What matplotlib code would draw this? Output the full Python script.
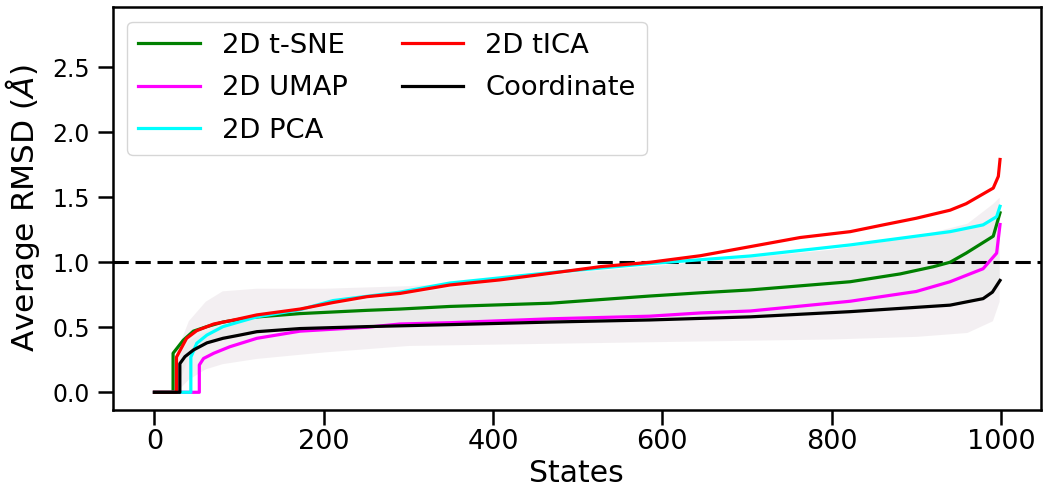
import matplotlib
matplotlib.use("Agg")
import matplotlib.pyplot as plt

# --- data (states sorted by average RMSD) ---
tsne_x = [0, 22, 22, 34, 46, 62, 81, 113, 172, 251, 290, 349, 468, 585, 645, 704, 822, 881, 920, 940, 959, 991, 999]
tsne_y = [0, 0, 0.30, 0.40, 0.47, 0.505, 0.54, 0.575, 0.605, 0.63, 0.64, 0.66, 0.685, 0.74, 0.765, 0.787,
          0.85, 0.91, 0.965, 1.0, 1.07, 1.20, 1.38]

umap_x = [0, 53, 53, 58, 70, 89, 121, 172, 211, 251, 290, 349, 468, 585, 645, 704, 822, 900, 940, 979, 995, 999]
umap_y = [0, 0, 0.21, 0.26, 0.30, 0.35, 0.415, 0.47, 0.485, 0.50, 0.525, 0.535, 0.565, 0.585, 0.61, 0.625,
          0.70, 0.775, 0.85, 0.95, 1.07, 1.29]

pca_x = [0, 43, 43, 50, 62, 81, 101, 121, 172, 211, 290, 349, 468, 586, 704, 822, 940, 979, 995, 999]
pca_y = [0, 0, 0.27, 0.377, 0.44, 0.505, 0.543, 0.58, 0.635, 0.705, 0.77, 0.84, 0.92, 0.99, 1.048, 1.133,
         1.235, 1.287, 1.35, 1.43]

tica_x = [0, 26, 26, 38, 50, 70, 93, 121, 172, 211, 251, 290, 349, 408, 468, 527, 586, 645, 704, 763, 822,
          861, 900, 940, 959, 991, 997, 999]
tica_y = [0, 0, 0.27, 0.415, 0.474, 0.525, 0.555, 0.595, 0.64, 0.69, 0.735, 0.76, 0.825, 0.864, 0.915, 0.966,
          1.0, 1.05, 1.12, 1.19, 1.235, 1.287, 1.338, 1.40, 1.45, 1.57, 1.66, 1.79]

coord_x = [0, 30, 30, 36, 46, 62, 81, 101, 121, 172, 251, 349, 468, 585, 704, 822, 940, 979, 990, 999]
coord_y = [0, 0, 0.22, 0.274, 0.325, 0.38, 0.415, 0.44, 0.466, 0.49, 0.505, 0.52, 0.54, 0.556, 0.58, 0.62,
           0.67, 0.72, 0.77, 0.86]

# spread of the per-state RMSD (faint shaded bands)
band_x = [25, 40, 60, 80, 120, 200, 300, 400, 500, 600, 700, 800, 900, 960, 990, 998]
band_hi = [0.30, 0.55, 0.70, 0.78, 0.80, 0.80, 0.82, 0.86, 0.92, 0.98, 1.03, 1.10, 1.20, 1.30, 1.45, 1.50]
band_lo = [0.00, 0.10, 0.18, 0.22, 0.26, 0.31, 0.36, 0.37, 0.38, 0.39, 0.40, 0.41, 0.43, 0.46, 0.55, 0.70]
inner_hi = [0.25, 0.40, 0.47, 0.52, 0.59, 0.66, 0.76, 0.85, 0.93, 0.98, 1.04, 1.10, 1.20, 1.27, 1.33, 1.40]
inner_lo = [0.00, 0.28, 0.37, 0.41, 0.46, 0.49, 0.51, 0.53, 0.545, 0.56, 0.575, 0.60, 0.64, 0.69, 0.78, 0.85]

fig = plt.figure(figsize=(10.5, 4.99), dpi=100)
ax = fig.add_axes([0.1076, 0.1784, 0.8835, 0.807])

ax.fill_between(band_x, band_lo, band_hi, color='#f1ecef', alpha=0.8, lw=0)
ax.fill_between(band_x, inner_lo, inner_hi, color='#e9e9e9', alpha=0.7, lw=0)

lw = 2.3
ax.plot(tsne_x, tsne_y, color='green', lw=lw, label='2D t-SNE')
ax.plot(umap_x, umap_y, color='magenta', lw=lw, label='2D UMAP')
ax.plot(pca_x, pca_y, color='cyan', lw=lw, label='2D PCA')
ax.plot(tica_x, tica_y, color='red', lw=lw, label='2D tICA')
ax.plot(coord_x, coord_y, color='black', lw=lw, label='Coordinate')
ax.axhline(1.0, color='k', lw=2.2, ls=(0, (5, 2.2)), zorder=1)

ax.set_xlim(-49, 1047)
ax.set_ylim(-0.136, 2.96)
ax.set_xticks([0, 200, 400, 600, 800, 1000])
ax.set_yticks([0.0, 0.5, 1.0, 1.5, 2.0, 2.5])
ax.set_yticklabels(['0.0', '0.5', '1.0', '1.5', '2.0', '2.5'])
ax.tick_params(axis='x', labelsize=19.5, length=10.5, width=1.8, pad=3)
ax.tick_params(axis='y', labelsize=17, length=10.8, width=1.8, pad=6)
for sp in ax.spines.values():
    sp.set_linewidth(1.8)

ax.set_xlabel('States', fontsize=21.5, labelpad=3)
ax.set_ylabel('Average RMSD ($Å$)', fontsize=22.5, labelpad=7)

ax.legend(loc='upper left', ncol=2, fontsize=19.7, handlelength=2.24, handletextpad=0.8,
          columnspacing=2.0, labelspacing=0.6, borderpad=0.4, borderaxespad=0.53)

fig.savefig('out.png', dpi=100)
